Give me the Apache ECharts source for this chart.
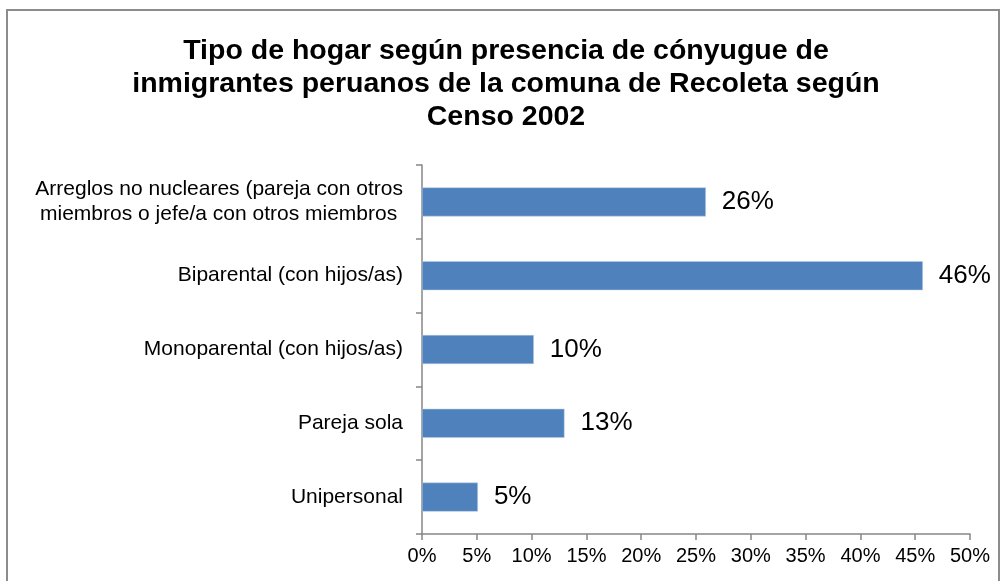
<!DOCTYPE html>
<html>
<head>
<meta charset="utf-8">
<script src="https://cdn.jsdelivr.net/npm/echarts@6/dist/echarts.min.js"></script>
<style>html,body{margin:0;padding:0;background:#fff}#c{width:1007px;height:581px}</style>
</head>
<body>
<div id="c"></div>
<script>
const titleText = 'Tipo de hogar según presencia de cónyugue de\ninmigrantes peruanos de la comuna de Recoleta según\nCenso 2002';
const categories = [
  'Unipersonal',
  'Pareja sola',
  'Monoparental (con hijos/as)',
  'Biparental (con hijos/as)',
  'Arreglos no nucleares (pareja con otros\nmiembros o jefe/a con otros miembros '
];
const values = [5.1, 13.0, 10.2, 45.7, 25.9];
const valueLabels = ['5%', '13%', '10%', '46%', '26%'];
const xTicks = [0, 5, 10, 15, 20, 25, 30, 35, 40, 45, 50];

const chart = echarts.init(document.getElementById('c'));
chart.setOption({
  animation: false,
  backgroundColor: '#fff',
  graphic: [{
    type: 'rect',
    shape: {x: 7, y: 10, width: 992, height: 600},
    style: {fill: 'none', stroke: '#8c8c8c', lineWidth: 2},
    silent: true
  }],
  title: {
    text: titleText,
    left: 501,
    top: 30,
    textAlign: 'center',
    textStyle: {
      fontFamily: 'Liberation Sans, Arial, sans-serif',
      fontWeight: 'bold',
      fontSize: 28.5,
      lineHeight: 33,
      color: '#000'
    }
  },
  grid: {left: 422, right: 37, top: 165, bottom: 47, containLabel: false},
  xAxis: {
    type: 'value',
    min: 0, max: 50, interval: 5,
    axisLine: {show: true, lineStyle: {color: '#868686', width: 1.5}},
    axisTick: {show: true, length: 6, inside: false, lineStyle: {color: '#868686', width: 1.5}},
    splitLine: {show: false},
    axisLabel: {
      formatter: v => xTicks.includes(v) ? v + '%' : '',
      fontFamily: 'Liberation Sans, Arial, sans-serif',
      fontSize: 20, color: '#000', margin: 12
    }
  },
  yAxis: {
    type: 'category',
    data: categories,
    axisLine: {show: true, lineStyle: {color: '#868686', width: 1.5}},
    axisTick: {show: true, length: 6, lineStyle: {color: '#868686', width: 1.5}},
    axisLabel: {
      fontFamily: 'Liberation Sans, Arial, sans-serif',
      fontSize: 21, color: '#000', margin: 19, lineHeight: 25, align: 'right'
    }
  },
  series: [{
    type: 'bar',
    data: values,
    barWidth: 29,
    itemStyle: {color: '#4f81bd', borderColor: '#b9cde5', borderWidth: 0.5},
    label: {
      show: true,
      position: 'right',
      distance: 16,
      formatter: p => valueLabels[p.dataIndex],
      fontFamily: 'Liberation Sans, Arial, sans-serif',
      fontSize: 26,
      color: '#000'
    }
  }]
});
</script>
</body>
</html>
